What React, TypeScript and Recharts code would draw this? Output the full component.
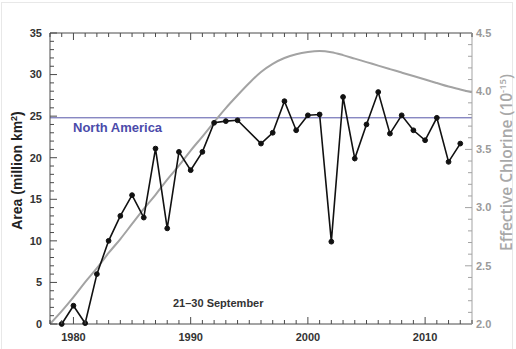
import React from "react";
import { LineChart, Line, XAxis, YAxis, ReferenceLine, Label } from "recharts";

// ozone hole area, 21-30 Sept (no data for 1995)
const areaYears = [
  1979, 1980, 1981, 1982, 1983, 1984, 1985, 1986, 1987, 1988, 1989, 1990, 1991, 1992, 1993, 1994,
  1996, 1997, 1998, 1999, 2000, 2001, 2002, 2003, 2004, 2005, 2006, 2007, 2008, 2009, 2010, 2011, 2012, 2013,
];
const areaValues = [
  0.0, 2.2, 0.1, 6.0, 10.0, 13.0, 15.5, 12.8, 21.1, 11.5, 20.7, 18.5, 20.7, 24.2, 24.4, 24.5,
  21.7, 23.0, 26.8, 23.3, 25.1, 25.2, 9.9, 27.3, 19.9, 24.0, 27.9, 22.9, 25.1, 23.3, 22.1, 24.8, 19.5, 21.7,
];

// effective chlorine curve
const eescYears = [
  1978, 1979, 1980, 1981, 1982, 1983, 1984, 1985, 1986, 1987, 1988, 1989, 1990, 1991, 1992, 1993, 1994, 1995,
  1996, 1997, 1998, 1999, 2000, 2001, 2002, 2003, 2004, 2005, 2006, 2007, 2008, 2009, 2010, 2011, 2012, 2013, 2014,
];
const eescValues = [
  2.0, 2.11, 2.23, 2.36, 2.48, 2.61, 2.73, 2.86, 2.99, 3.11, 3.24, 3.36, 3.49, 3.61, 3.735, 3.855, 3.965, 4.07,
  4.165, 4.235, 4.285, 4.318, 4.337, 4.345, 4.335, 4.31, 4.28, 4.25, 4.22, 4.19, 4.16, 4.13, 4.1, 4.07, 4.04, 4.015, 3.99,
];

const northAmerica = 24.8;

const yearTicks = Array.from({ length: 37 }, (_, i) => 1978 + i);
const areaTicks = Array.from({ length: 36 }, (_, i) => i);
const eescTicks = Array.from({ length: 26 }, (_, i) => Math.round(20 + i) / 10);

const areaData = areaYears.map((year, i) => ({ year, area: areaValues[i] }));
const eescData = eescYears.map((year, i) => ({ year, eesc: eescValues[i] }));

const PLOT_TOP = 33;
const FRAME = "#4a4a4a";
const GRAY = "#a3a3a3";
const FONT = "'Liberation Sans', Arial, sans-serif";

const LeftTick = (props: any) => {
  const { x, y, payload } = props;
  const v = payload.value;
  const major = v % 5 === 0;
  const ax = x + 8;
  return (
    <g>
      <line x1={ax} x2={ax + (major ? 7 : 4)} y1={y} y2={y} stroke={FRAME} strokeWidth={1} />
      {major && (
        <text x={x} y={y} dy="0.35em" textAnchor="end" fontSize={11} fontWeight="bold" fill="#333" fontFamily={FONT}>
          {v}
        </text>
      )}
    </g>
  );
};

const RightTick = (props: any) => {
  const { x, y, payload } = props;
  const v = payload.value;
  const major = Math.round(v * 10) % 5 === 0;
  const ax = x - 4;
  return (
    <g>
      <line x1={ax} x2={ax - (major ? 7 : 4)} y1={y} y2={y} stroke={GRAY} strokeWidth={1} />
      {major && (
        <text x={x} y={y} dy="0.35em" textAnchor="start" fontSize={11} fontWeight="bold" fill="#9a9a9a" fontFamily={FONT}>
          {v.toFixed(1)}
        </text>
      )}
    </g>
  );
};

const BottomTick = (props: any) => {
  const { x, y, payload } = props;
  const v = payload.value;
  const major = v % 10 === 0;
  const ay = y - 9;
  const len = major ? 7 : 4;
  return (
    <g>
      <line x1={x} x2={x} y1={ay} y2={ay - len} stroke={FRAME} strokeWidth={1} />
      <line x1={x} x2={x} y1={PLOT_TOP} y2={PLOT_TOP + len} stroke={FRAME} strokeWidth={1} />
      {major && (
        <text x={x} y={y} dy="0.71em" textAnchor="middle" fontSize={11} fontWeight="bold" fill="#333" fontFamily={FONT}>
          {v}
        </text>
      )}
    </g>
  );
};

const leftTitle = ({ viewBox }: any) => {
  const cx = viewBox.x + 17;
  const cy = viewBox.y + viewBox.height / 2 - 8;
  return (
    <text x={cx} y={cy} transform={`rotate(-90, ${cx}, ${cy})`} textAnchor="middle" dy="0.35em"
      fontSize={14} fontWeight="bold" fill="#222" fontFamily={FONT}>
      Area (million km<tspan dy={-5} fontSize={9}>2</tspan><tspan dy={5}>)</tspan>
    </text>
  );
};

const rightTitle = ({ viewBox }: any) => {
  const cx = viewBox.x + 34.5;
  const cy = viewBox.y + viewBox.height / 2 - 16;
  return (
    <text x={cx} y={cy} transform={`rotate(-90, ${cx}, ${cy})`} textAnchor="middle" dy="0.35em"
      fontSize={15.5} fontWeight={600} fill="#a8a8a8" fontFamily="'Open Sans', sans-serif">
      Effective Chlorine (10<tspan dy={-6} fontSize={9.5}>-15</tspan><tspan dy={6}>)</tspan>
    </text>
  );
};

const naLabel = ({ viewBox }: any) => (
  <text x={viewBox.x + 23} y={viewBox.y + 10} dy="0.35em" fontSize={13} fontWeight="bold" fill="#4b4baa" fontFamily={FONT}>
    North America
  </text>
);

export default function App() {
  return (
    <div style={{ position: "absolute", left: 0, top: 0, width: 516, height: 349, background: "#fff" }}>
      <div style={{ position: "absolute", left: 1, top: 2, width: 510, height: 347, borderTop: "1px solid #e8e8e8", borderLeft: "1px solid #e8e8e8", borderRight: "1px solid #e8e8e8" }} />
      <LineChart width={516} height={349} margin={{ top: PLOT_TOP, right: 0, bottom: 0, left: 0 }}>
        <XAxis
          xAxisId="x"
          dataKey="year"
          type="number"
          domain={[1978, 2014]}
          ticks={yearTicks}
          interval={0}
          allowDataOverflow
          height={25}
          tickSize={0}
          tickMargin={9}
          tickLine={false}
          axisLine={{ stroke: FRAME, strokeWidth: 1 }}
          tick={<BottomTick />}
        />
        <YAxis
          yAxisId="left"
          orientation="left"
          type="number"
          domain={[0, 35]}
          ticks={areaTicks}
          interval={0}
          width={50}
          tickSize={0}
          tickMargin={8}
          tickLine={false}
          axisLine={{ stroke: FRAME, strokeWidth: 1 }}
          tick={<LeftTick />}
        >
          <Label content={leftTitle} />
        </YAxis>
        <YAxis
          yAxisId="right"
          orientation="right"
          type="number"
          domain={[2, 4.5]}
          ticks={eescTicks}
          interval={0}
          allowDataOverflow
          width={44}
          tickSize={0}
          tickMargin={4}
          tickLine={false}
          axisLine={{ stroke: GRAY, strokeWidth: 1 }}
          tick={<RightTick />}
        >
          <Label content={rightTitle} />
        </YAxis>
        <ReferenceLine xAxisId="x" yAxisId="left" y={35} stroke={FRAME} strokeWidth={1} />
        <ReferenceLine xAxisId="x" yAxisId="left" y={northAmerica} stroke="#5656a8" strokeWidth={1} label={naLabel} />
        <Line
          xAxisId="x"
          yAxisId="right"
          data={eescData}
          dataKey="eesc"
          type="monotone"
          stroke={GRAY}
          strokeWidth={2}
          dot={false}
          isAnimationActive={false}
        />
        <Line
          xAxisId="x"
          yAxisId="left"
          data={areaData}
          dataKey="area"
          type="linear"
          stroke="#111"
          strokeWidth={1.6}
          dot={{ r: 2.4, fill: "#111", stroke: "#111", strokeWidth: 1 }}
          isAnimationActive={false}
        />
      </LineChart>
      <div style={{ position: "absolute", left: 173, top: 297, fontSize: 11, lineHeight: "12px", fontWeight: "bold", color: "#333", fontFamily: FONT, whiteSpace: "nowrap" }}>
        21–30 September
      </div>
    </div>
  );
}
